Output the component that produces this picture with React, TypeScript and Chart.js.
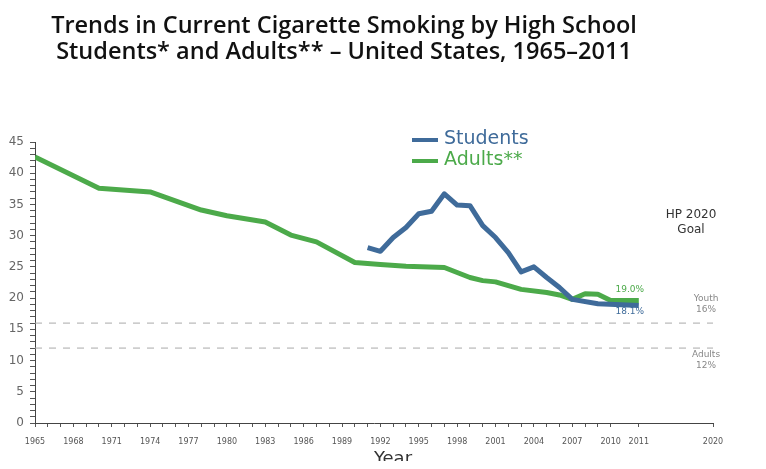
import React, { useEffect, useRef } from 'react';
import { Chart, registerables, LinearScale } from 'chart.js';

// ---------- data ----------
const titleLines = [
  'Trends in Current Cigarette Smoking by High School',
  'Students* and Adults** \u2013 United States, 1965\u20132011',
];
const studentYears = [1991, 1992, 1993, 1994, 1995, 1996, 1997, 1998, 1999, 2000, 2001, 2002, 2003, 2004, 2005, 2006, 2007, 2009, 2011];
const studentValues = [28.1, 27.5, 29.7, 31.3, 33.5, 33.9, 36.7, 34.9, 34.8, 31.6, 29.7, 27.3, 24.2, 25.0, 23.3, 21.7, 19.8, 19.1, 18.8];
const adultYears = [1965, 1970, 1974, 1978, 1980, 1983, 1985, 1987, 1990, 1992, 1994, 1997, 1999, 2000, 2001, 2003, 2005, 2006, 2007, 2008, 2009, 2010, 2011];
const adultValues = [42.6, 37.6, 37.0, 34.1, 33.2, 32.2, 30.1, 29.0, 25.7, 25.4, 25.1, 24.9, 23.3, 22.8, 22.6, 21.4, 20.9, 20.5, 19.8, 20.7, 20.6, 19.6, 19.6];
const goalYears = [1965, 2020];
const youthGoal = 16;
const adultGoal = 12;
const xTickYears = [
  1965, 1966, 1967, 1968, 1969, 1970, 1971, 1972, 1973, 1974, 1975, 1976, 1977, 1978, 1979, 1980,
  1981, 1982, 1983, 1984, 1985, 1986, 1987, 1988, 1989, 1990, 1991, 1992, 1993, 1994, 1995, 1996,
  1997, 1998, 1999, 2000, 2001, 2002, 2003, 2004, 2005, 2006, 2007, 2008, 2009, 2010, 2011, 2020,
];
const xLabelYears = [1965, 1968, 1971, 1974, 1977, 1980, 1983, 1986, 1989, 1992, 1995, 1998, 2001, 2004, 2007, 2010, 2011, 2020];
const studentEndLabel = '18.1%';
const adultEndLabel = '19.0%';

const BLUE = '#3f6b9a';
const GREEN = '#4caa4a';

// piecewise year axis (the source axis compresses 2011-2020)
function yearToUnit(v: number): number {
  if (v <= 2010) return v - 1965;
  if (v <= 2011) return 45 + (v - 2010) * 2.2;
  return 47.2 + (v - 2011) * (5.8 / 9);
}
function unitToYear(u: number): number {
  if (u <= 45) return u + 1965;
  if (u <= 47.2) return 2010 + (u - 45) / 2.2;
  return 2011 + (u - 47.2) / (5.8 / 9);
}

class BrokenYearScale extends LinearScale {
  static id = 'brokenYear';
  static defaults = (LinearScale as any).defaults;
  getPixelForValue(value: number) {
    const s: any = this;
    const u0 = yearToUnit(s.min);
    const u1 = yearToUnit(s.max);
    return s.getPixelForDecimal((yearToUnit(value) - u0) / (u1 - u0));
  }
  getValueForPixel(pixel: number) {
    const s: any = this;
    const u0 = yearToUnit(s.min);
    const u1 = yearToUnit(s.max);
    return unitToYear(u0 + s.getDecimalForPixel(pixel) * (u1 - u0));
  }
}

Chart.register(...registerables, BrokenYearScale as any);

const textPlugin = {
  id: 'textPlugin',
  afterDraw(chart: any) {
    const ctx = chart.ctx;
    const x = chart.scales.x;
    const y = chart.scales.y;
    ctx.save();
    // title
    ctx.fillStyle = '#111';
    ctx.font = '600 23.5px "Open Sans"';
    ctx.textAlign = 'center';
    ctx.textBaseline = 'middle';
    ctx.fillText(titleLines[0], 336, 18);
    ctx.fillText(titleLines[1], 336, 44);

    // legend
    const legend = [
      { label: 'Students', color: BLUE, y: 132 },
      { label: 'Adults**', color: GREEN, y: 153 },
    ];
    ctx.textAlign = 'left';
    ctx.font = '19px "DejaVu Sans"';
    legend.forEach((l) => {
      ctx.strokeStyle = l.color;
      ctx.lineWidth = 4;
      ctx.beginPath();
      ctx.moveTo(404, l.y);
      ctx.lineTo(430, l.y);
      ctx.stroke();
      ctx.fillStyle = l.color;
      ctx.fillText(l.label, 436, l.y - 1);
    });

    // end labels
    ctx.textAlign = 'center';
    ctx.font = '9px "DejaVu Sans"';
    const xe = x.getPixelForValue(2011) - 9;
    ctx.fillStyle = GREEN;
    ctx.fillText(adultEndLabel, xe, y.getPixelForValue(adultValues[adultValues.length - 1]) - 11);
    ctx.fillStyle = BLUE;
    ctx.fillText(studentEndLabel, xe, y.getPixelForValue(studentValues[studentValues.length - 1]) + 6);

    // goal labels
    const xg = x.getPixelForValue(2020) - 7;
    ctx.fillStyle = '#888';
    ctx.font = '9px "DejaVu Sans"';
    const y16 = y.getPixelForValue(youthGoal);
    const y12 = y.getPixelForValue(adultGoal);
    ctx.fillText('Youth', xg, y16 - 24);
    ctx.fillText('16%', xg, y16 - 13);
    ctx.fillText('Adults', xg, y12 + 7);
    ctx.fillText('12%', xg, y12 + 18);

    ctx.fillStyle = '#333';
    ctx.font = '12px "DejaVu Sans"';
    ctx.fillText('HP 2020', x.getPixelForValue(2020) - 22, 207);
    ctx.fillText('Goal', x.getPixelForValue(2020) - 22, 222);

    // axis title under the plot
    ctx.fillStyle = '#333';
    ctx.font = '18px "DejaVu Sans"';
    ctx.textBaseline = 'alphabetic';
    ctx.fillText('Year', 385, y.bottom + 41);
    ctx.restore();
  },
};

export default function App() {
  const ref = useRef<HTMLCanvasElement | null>(null);
  useEffect(() => {
    if (!ref.current) return;
    const pts = (xs: number[], ys: number[]) => xs.map((v, i) => ({ x: v, y: ys[i] }));
    const chart = new Chart(ref.current, {
      type: 'line',
      data: {
        datasets: [
          {
            label: 'Students',
            data: pts(studentYears, studentValues),
            borderColor: BLUE,
            borderWidth: 5,
            pointRadius: 0,
            borderJoinStyle: 'round',
            order: 0,
          },
          {
            label: 'Adults**',
            data: pts(adultYears, adultValues),
            borderColor: GREEN,
            borderWidth: 5,
            pointRadius: 0,
            borderJoinStyle: 'round',
            order: 1,
          },
          {
            label: 'Youth goal',
            data: pts(goalYears, [youthGoal, youthGoal]),
            borderColor: '#aaaaaa',
            borderWidth: 1,
            borderDash: [7, 7],
            pointRadius: 0,
            order: 2,
          },
          {
            label: 'Adult goal',
            data: pts(goalYears, [adultGoal, adultGoal]),
            borderColor: '#aaaaaa',
            borderWidth: 1,
            borderDash: [7, 7],
            pointRadius: 0,
            order: 3,
          },
        ],
      },
      options: {
        animation: false,
        responsive: true,
        maintainAspectRatio: false,
        layout: { padding: { top: 134, right: 45, left: 0, bottom: 0 } },
        plugins: { legend: { display: false }, tooltip: { enabled: false }, title: { display: false } },
        scales: {
          x: {
            type: 'brokenYear' as any,
            min: 1965,
            max: 2020,
            afterBuildTicks: (s: any) => {
              s.ticks = xTickYears.map((v) => ({ value: v }));
            },
            afterFit: (s: any) => {
              s.height = 46;
            },
            ticks: {
              autoSkip: false,
              maxRotation: 0,
              padding: 10,
              color: '#555',
              font: { family: 'DejaVu Sans', size: 8 },
              callback: (v: any) => (xLabelYears.includes(Number(v)) ? String(v) : ''),
            },
            grid: { drawOnChartArea: false, drawTicks: true, tickLength: 4, tickColor: '#555' },
            border: { display: true, color: '#444', width: 1 },
          },
          y: {
            min: 0,
            max: 45,
            afterFit: (s: any) => {
              s.width = 27;
            },
            ticks: {
              stepSize: 1,
              autoSkip: false,
              padding: 6,
              color: '#666',
              font: { family: 'DejaVu Sans', size: 12 },
              callback: (v: any) => (Number(v) % 5 === 0 ? String(v) : ''),
            },
            grid: { drawOnChartArea: false, drawTicks: true, tickLength: 5, tickColor: '#555' },
            border: { display: true, color: '#444', width: 1 },
          },
        },
      },
      plugins: [textPlugin],
    });
    return () => chart.destroy();
  }, []);
  return (
    <div style={{ position: 'relative', width: 750, height: 461, marginBottom: -8 }}>
      <canvas ref={ref} />
    </div>
  );
}
